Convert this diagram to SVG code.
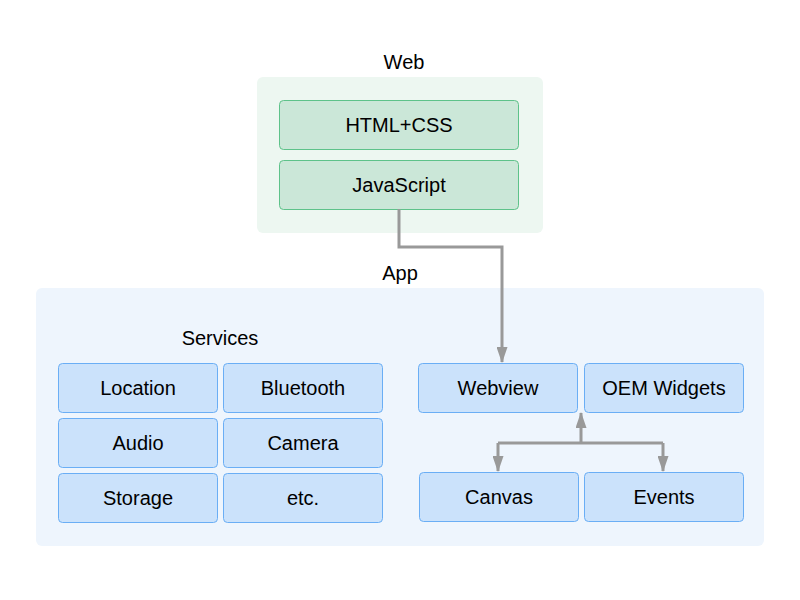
<svg xmlns="http://www.w3.org/2000/svg" width="800" height="600" viewBox="0 0 800 600">
<defs>
<marker id="ah" viewBox="0 0 16 11" refX="15" refY="5.5" markerWidth="16" markerHeight="11" markerUnits="userSpaceOnUse" orient="auto">
<path d="M0,0 L16,5.5 L0,11 z" fill="#999999"/>
</marker>
<style>
text{font-family:"Liberation Sans",Arial,sans-serif;font-size:20px;fill:#000;text-anchor:middle;dominant-baseline:central}
.gc{fill:#edf7f1}
.bc{fill:#eef5fd}
.g{fill:#cbe7d8;stroke:#5ec28a;stroke-width:1}
.b{fill:#cbe2fb;stroke:#6aaef5;stroke-width:1}
.ln{fill:none;stroke:#999999;stroke-width:3}
</style>
</defs>
<rect width="800" height="600" fill="#ffffff"/>
<g id="web">
<rect class="gc" x="257" y="77" width="286" height="156" rx="6"/>
<text x="404" y="62">Web</text>
</g>
<g id="app">
<rect class="bc" x="36" y="288" width="728" height="258" rx="6"/>
<text x="400" y="273">App</text>
<text x="220" y="338">Services</text>
</g>
<g id="html"><rect class="g" x="279.5" y="100.5" width="239" height="49" rx="4"/><text x="399" y="125">HTML+CSS</text></g>
<g id="js"><rect class="g" x="279.5" y="160.5" width="239" height="49" rx="4"/><text x="399" y="185">JavaScript</text></g>
<g id="location"><rect class="b" x="58.5" y="363.5" width="159" height="49" rx="4"/><text x="138" y="388">Location</text></g>
<g id="bluetooth"><rect class="b" x="223.5" y="363.5" width="159" height="49" rx="4"/><text x="303" y="388">Bluetooth</text></g>
<g id="audio"><rect class="b" x="58.5" y="418.5" width="159" height="49" rx="4"/><text x="138" y="443">Audio</text></g>
<g id="camera"><rect class="b" x="223.5" y="418.5" width="159" height="49" rx="4"/><text x="303" y="443">Camera</text></g>
<g id="storage"><rect class="b" x="58.5" y="473.5" width="159" height="49" rx="4"/><text x="138" y="498">Storage</text></g>
<g id="etc"><rect class="b" x="223.5" y="473.5" width="159" height="49" rx="4"/><text x="303" y="498">etc.</text></g>
<g id="webview"><rect class="b" x="418.5" y="363.5" width="159" height="49" rx="4"/><text x="498" y="388">Webview</text></g>
<g id="oem"><rect class="b" x="584.5" y="363.5" width="159" height="49" rx="4"/><text x="664" y="388">OEM Widgets</text></g>
<g id="canvas"><rect class="b" x="419.5" y="472.5" width="159" height="49" rx="4"/><text x="499" y="497">Canvas</text></g>
<g id="events"><rect class="b" x="584.5" y="472.5" width="159" height="49" rx="4"/><text x="664" y="497">Events</text></g>
<g id="connectors">
<path class="ln" d="M399,209 V247 H502 V362" marker-end="url(#ah)"/>
<path class="ln" d="M581,443 V413" marker-end="url(#ah)"/>
<path class="ln" d="M498,443 H663"/>
<path class="ln" d="M498,443 V471" marker-end="url(#ah)"/>
<path class="ln" d="M663,443 V471" marker-end="url(#ah)"/>
</g>
</svg>
